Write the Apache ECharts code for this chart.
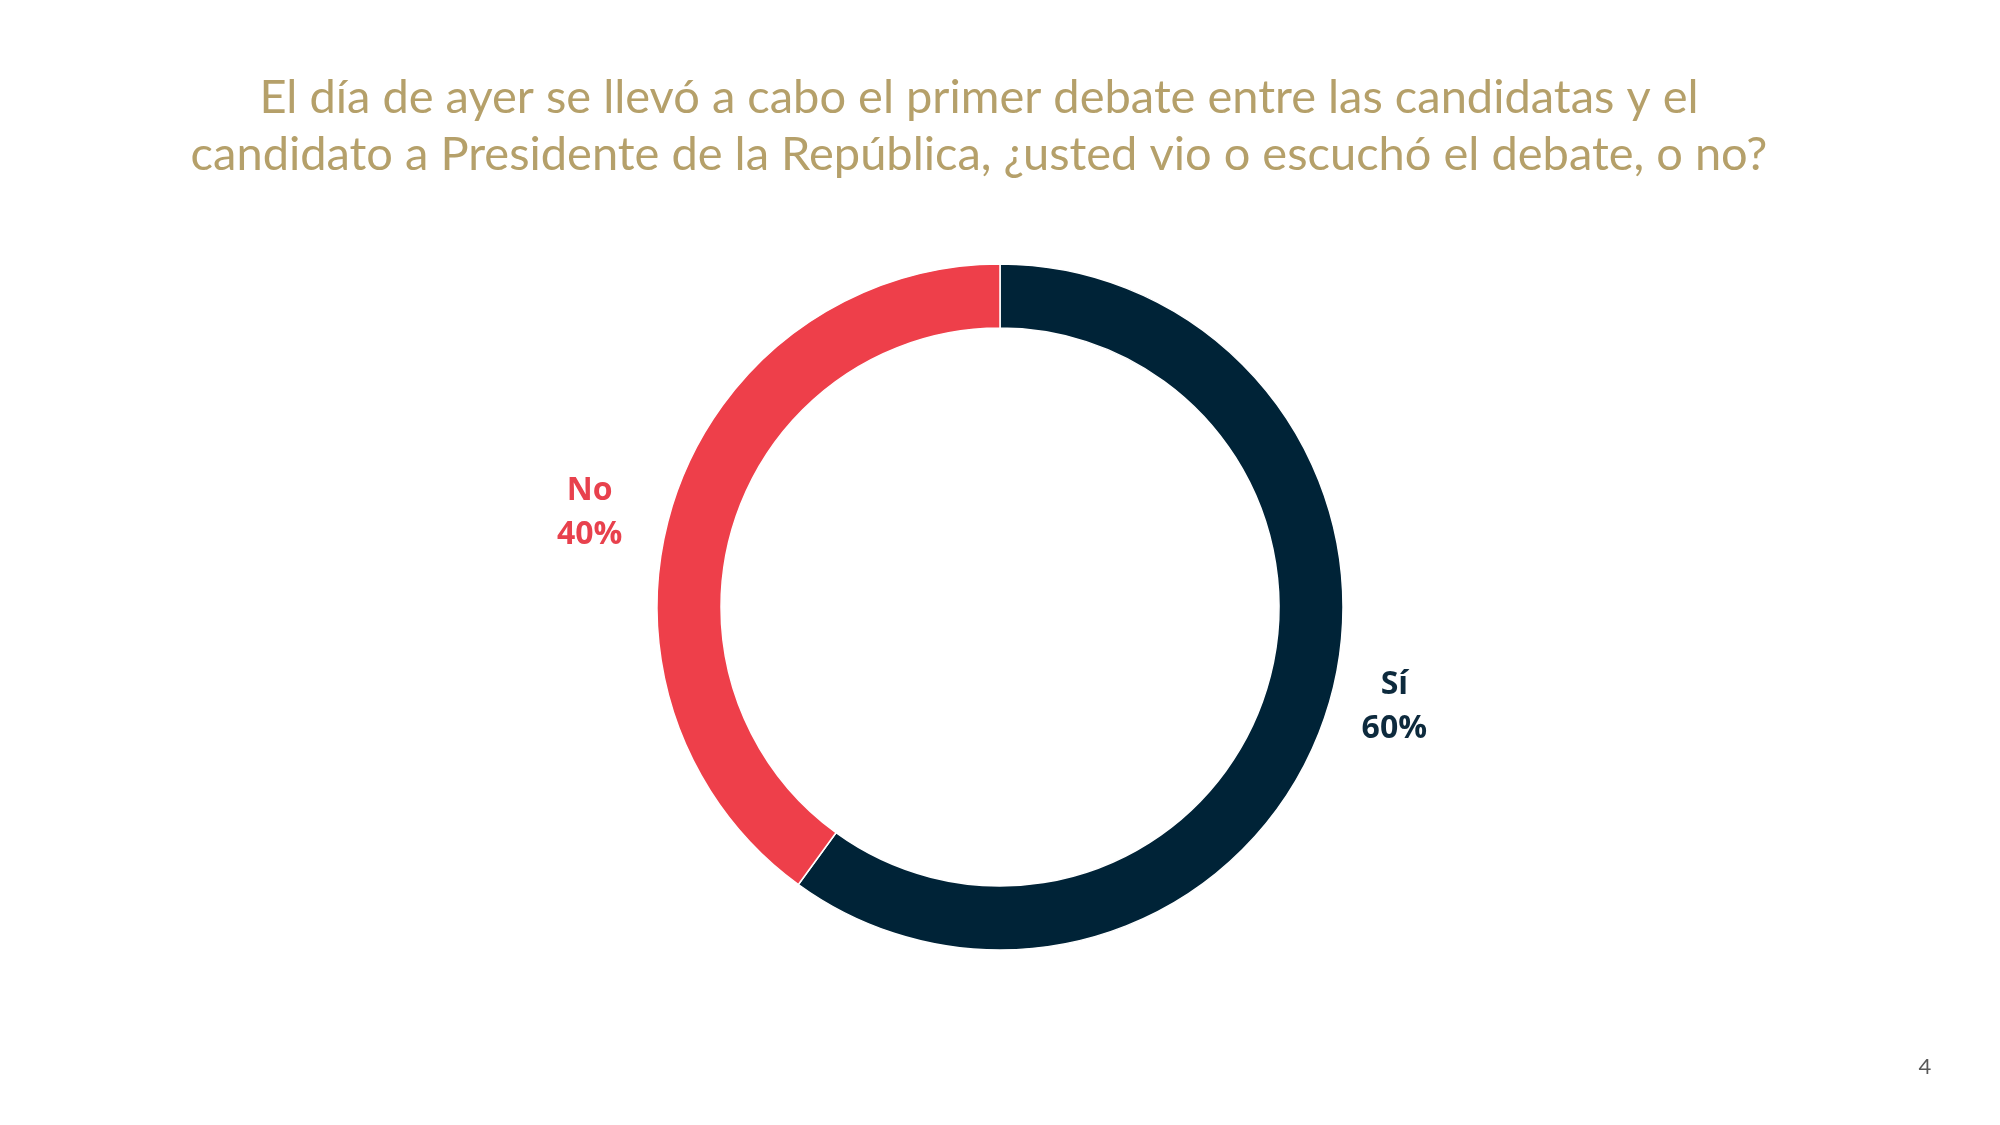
<!DOCTYPE html>
<html>
<head>
<meta charset="utf-8">
<script src="https://cdn.jsdelivr.net/npm/echarts@6/dist/echarts.min.js"></script>
<style>
html,body{margin:0;padding:0;background:#fff;}
#main{width:2000px;height:1125px;}
</style>
</head>
<body>
<div id="main"></div>
<script>
const titleLines = [
  'El día de ayer se llevó a cabo el primer debate entre las candidatas y el',
  'candidato a Presidente de la República, ¿usted vio o escuchó el debate, o no?'
];
const categories = ['Sí', 'No'];
const values = [60, 40];
const colors = ['#002337', '#EE3F4A'];
const labelColors = ['#0D2A3D', '#E8414D'];
const pageNumber = '4';

const chart = echarts.init(document.getElementById('main'));
chart.setOption({
  backgroundColor: '#ffffff',
  animation: false,
  title: [{
    text: titleLines.join('\n'),
    left: 974,
    top: 64,
    textAlign: 'center',
    textStyle: {
      fontFamily: 'Lato',
      fontWeight: 'normal',
      fontSize: 47,
      lineHeight: 57,
      color: '#B5A06A'
    }
  }, {
    text: pageNumber,
    left: 1920,
    top: 1051,
    textAlign: 'center',
    textStyle: {
      fontFamily: 'Lato',
      fontWeight: 'normal',
      fontSize: 22,
      color: '#595959'
    }
  }],
  series: [{
    type: 'pie',
    center: [1000, 607],
    radius: [279, 343],
    startAngle: 90,
    clockwise: true,
    avoidLabelOverlap: false,
    itemStyle: { borderColor: '#ffffff', borderWidth: 1.5 },
    label: {
      show: true,
      position: 'outside',
      formatter: '{t|{b}}\n{t|{d}%}',
      rich: {
        t: { width: 76, align: 'center', fontFamily: 'Open Sans', fontWeight: 'bold', fontSize: 32, lineHeight: 44 }
      }
    },
    labelLine: { show: false, length: 18, length2: 8 },
    labelLayout: function (p) {
      return p.dataIndex === 0 ? { dx: 0, dy: -12 } : { dx: -16, dy: 17 };
    },
    data: categories.map((c, i) => ({
      name: c,
      value: values[i],
      itemStyle: { color: colors[i] },
      label: { color: labelColors[i], rich: { t: { color: labelColors[i] } } }
    }))
  }]
});
</script>
</body>
</html>
